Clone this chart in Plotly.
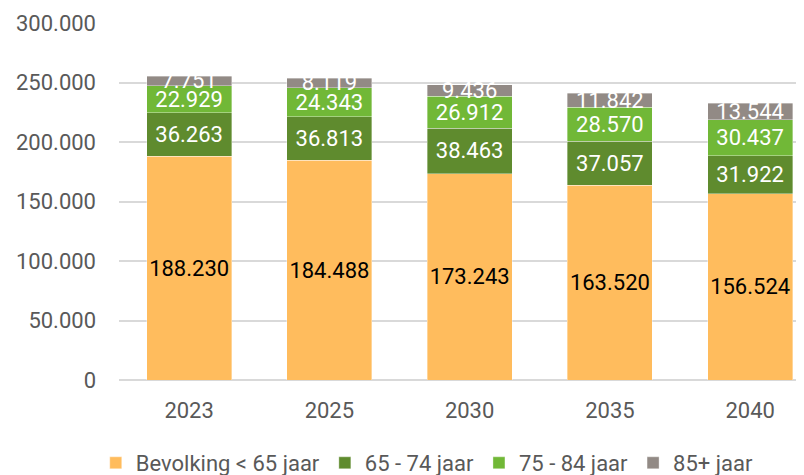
import plotly.graph_objects as go

years = ["2023", "2025", "2030", "2035", "2040"]
series_names = ["Bevolking < 65 jaar", "65 - 74 jaar", "75 - 84 jaar", "85+ jaar"]
under65 = [188230, 184488, 173243, 163520, 156524]
age65_74 = [36263, 36813, 38463, 37057, 31922]
age75_84 = [22929, 24343, 26912, 28570, 30437]
age85plus = [7751, 8119, 9436, 11842, 13544]
y_ticks = [0, 50000, 100000, 150000, 200000, 250000, 300000]

values = [under65, age65_74, age75_84, age85plus]
colors = ["#FFBC5D", "#5F8B2E", "#71B837", "#928A85"]
text_colors = ["#000000", "#FFFFFF", "#FFFFFF", "#FFFFFF"]

FONT = "Roboto, Liberation Sans, sans-serif"
LABEL_SIZE = 22
TICK_SIZE = 22

fig = go.Figure()
for name, vals, col, tcol in zip(series_names, values, colors, text_colors):
    fig.add_trace(go.Bar(
        x=years, y=vals, name=name,
        marker=dict(color=col, line=dict(color="rgba(255,255,255,0.6)", width=0.6)),
        texttemplate="%{y:,}",
        textposition="inside",
        insidetextanchor="middle",
        textangle=0,
        insidetextfont=dict(color=tcol, size=LABEL_SIZE, family=FONT),
        hoverinfo="skip",
    ))

# The page body adds an 8px offset, so the figure is sized to fit the 804x475 window.
fig.update_layout(
    width=796, height=467,
    barmode="stack",
    bargap=0.394,
    separators=",.",
    paper_bgcolor="white",
    plot_bgcolor="white",
    margin=dict(l=111, r=0, t=15, b=95, autoexpand=False),
    font=dict(family=FONT, color="#595959", size=TICK_SIZE),
    uniformtext=dict(minsize=LABEL_SIZE, mode="show"),
    legend=dict(
        orientation="h",
        x=0.450, xanchor="center",
        y=-0.2325, yanchor="middle",
        font=dict(size=22, color="#595959"),
        itemwidth=30,
        traceorder="normal",
    ),
    showlegend=True,
)

fig.update_xaxes(
    type="category",
    range=[-0.5, 4.384],
    automargin=False,
    showgrid=False,
    showline=False,
    ticks="",
    ticklabelstandoff=15,
    tickfont=dict(size=TICK_SIZE, color="#595959", family=FONT),
    fixedrange=True,
)
fig.update_yaxes(
    range=[0, 300000],
    automargin=False,
    tickvals=y_ticks,
    tickformat=",",
    showgrid=True,
    gridcolor="#D9D9D9",
    gridwidth=1.5,
    zeroline=True,
    zerolinecolor="#D9D9D9",
    zerolinewidth=1.5,
    showline=False,
    ticks="",
    ticklabelstandoff=22,
    tickfont=dict(size=TICK_SIZE, color="#595959", family=FONT),
    fixedrange=True,
)

fig.write_html("out.html")
